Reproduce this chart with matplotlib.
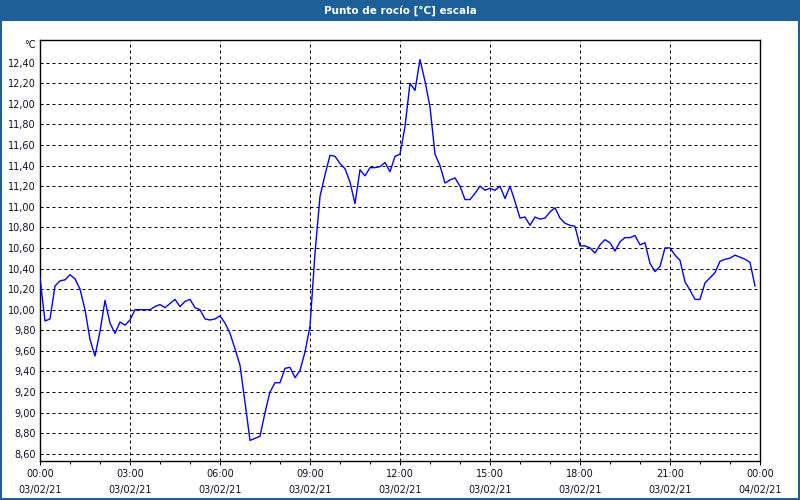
import numpy as np
import pandas as pd
import matplotlib
matplotlib.use("Agg")
import matplotlib.pyplot as plt
import matplotlib.dates as mdates
from matplotlib.patches import Rectangle
from matplotlib.ticker import FixedLocator, FuncFormatter

# dew point readings, every 10 minutes on 03/02/21
dew_point = [
    10.31, 9.89, 9.91, 10.23, 10.28, 10.29, 10.34, 10.30, 10.20, 10.00,
    9.71, 9.55, 9.79, 10.09, 9.87, 9.77, 9.88, 9.85, 9.90, 10.00,
    10.00, 10.00, 10.00, 10.03, 10.05, 10.02, 10.06, 10.10, 10.03, 10.08,
    10.10, 10.02, 10.00, 9.91, 9.90, 9.91, 9.94, 9.87, 9.77, 9.62,
    9.46, 9.10, 8.73, 8.75, 8.77, 9.00, 9.20, 9.29, 9.29, 9.43,
    9.44, 9.34, 9.41, 9.59, 9.84, 10.55, 11.10, 11.31, 11.50, 11.49,
    11.42, 11.37, 11.24, 11.03, 11.36, 11.30, 11.38, 11.38, 11.39, 11.43,
    11.34, 11.49, 11.51, 11.78, 12.20, 12.13, 12.43, 12.22, 11.97, 11.51,
    11.40, 11.23, 11.26, 11.28, 11.20, 11.07, 11.07, 11.13, 11.20, 11.16,
    11.18, 11.16, 11.20, 11.08, 11.20, 11.05, 10.89, 10.90, 10.82, 10.90,
    10.88, 10.89, 10.95, 10.99, 10.89, 10.84, 10.82, 10.81, 10.62, 10.62,
    10.60, 10.55, 10.63, 10.68, 10.65, 10.57, 10.66, 10.70, 10.70, 10.72,
    10.63, 10.65, 10.45, 10.37, 10.42, 10.60, 10.60, 10.53, 10.48, 10.27,
    10.19, 10.10, 10.10, 10.26, 10.31, 10.36, 10.47, 10.49, 10.50, 10.53,
    10.51, 10.49, 10.46, 10.23,
]
times = pd.date_range("2021-02-03 00:00", periods=len(dew_point), freq="10min")
y_ticks = [8.6, 8.8, 9.0, 9.2, 9.4, 9.6, 9.8, 10.0, 10.2, 10.4, 10.6,
           10.8, 11.0, 11.2, 11.4, 11.6, 11.8, 12.0, 12.2, 12.4]

title = "Punto de rocío [°C] escala"
unit = "°C"

bar_color = "#1d5f98"
text_color = "#10102a"
px = 0.72  # one pixel in points at 100 dpi

fig = plt.figure(figsize=(8, 5), dpi=100)
fig.patch.set_facecolor("white")

# title bar and blue frame
fig.add_artist(Rectangle((0, 0.958), 1, 0.042, transform=fig.transFigure,
                         facecolor=bar_color, edgecolor="none", zorder=0))
fig.add_artist(Rectangle((0.001, 0.002), 0.998, 0.996, transform=fig.transFigure,
                         facecolor="none", edgecolor=bar_color, linewidth=2 * px))
fig.text(0.5, 0.979, title, ha="center", va="center", color="white",
         fontsize=7.5, fontweight="bold", family="DejaVu Sans")

ax = fig.add_axes([0.05, 0.078, 0.90, 0.842])
ax.plot(times, dew_point, color="#0000ff", linewidth=1.0, zorder=3)

ax.set_xlim(pd.Timestamp("2021-02-03 00:00"), pd.Timestamp("2021-02-04 00:00"))
ax.set_ylim(8.53, 12.62)

ax.xaxis.set_major_locator(mdates.HourLocator(byhour=range(0, 24, 3)))
ax.xaxis.set_minor_locator(mdates.HourLocator())
ax.xaxis.set_major_formatter(mdates.DateFormatter("%H:%M\n%d/%m/%y"))
ax.yaxis.set_major_locator(FixedLocator(y_ticks))
ax.yaxis.set_major_formatter(FuncFormatter(lambda v, p: f"{v:.2f}".replace(".", ",")))

ax.tick_params(axis="x", which="major", direction="out", length=3, width=px,
               pad=3, labelsize=7, labelcolor=text_color)
ax.tick_params(axis="x", which="minor", direction="out", length=2, width=px)
ax.tick_params(axis="y", length=0, pad=3, labelsize=7, labelcolor=text_color)
for lbl in ax.get_xticklabels():
    lbl.set_linespacing(1.65)

ax.grid(True, which="major", color="black", linestyle=(0, (3, 3)), linewidth=px)
for s in ax.spines.values():
    s.set_linewidth(1.0)
    s.set_color("black")

fig.text(0.045, 0.91, unit, ha="right", va="center", fontsize=7, color=text_color)

fig.savefig("out.png", dpi=100)
